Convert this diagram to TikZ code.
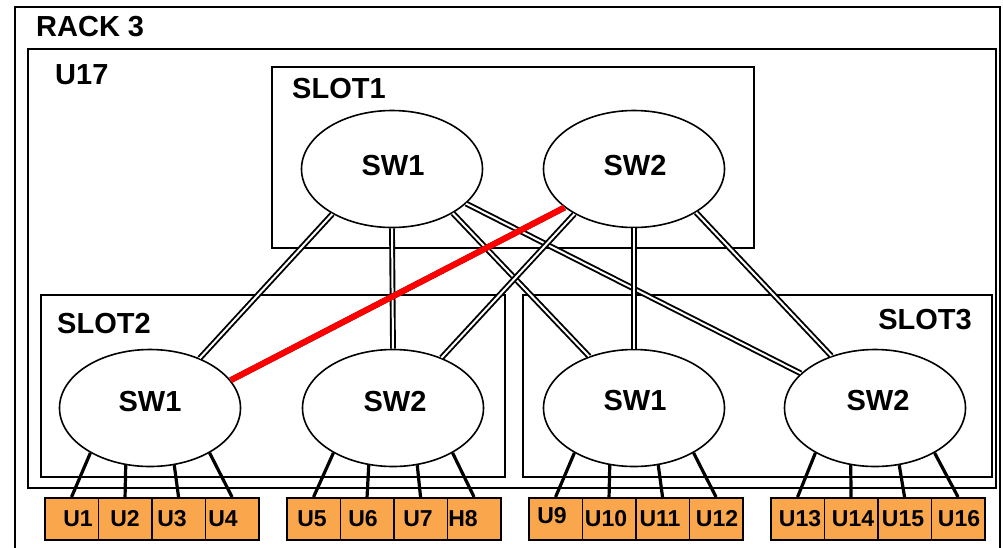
\documentclass[tikz,border=0pt]{standalone}
\usepackage{fontspec}
\setmainfont{Liberation Sans}
\usetikzlibrary{shapes.geometric}
\definecolor{boxorange}{RGB}{249,166,77}
\tikzset{
 frame/.style={draw=black, line width=1.7pt},
 sw/.style={ellipse, draw, line width=1.6pt, minimum width=181pt, minimum height=117pt, inner sep=0pt, fill=white},
 big/.style={font=\fontsize{29}{30}\selectfont\bfseries, inner sep=0pt, anchor=base west},
 swtext/.style={font=\fontsize{29}{30}\selectfont\bfseries, inner sep=0pt, anchor=base},
 ubox/.style={draw, line width=1.6pt, fill=boxorange, minimum width=53.5pt, minimum height=42pt, inner sep=0pt, anchor=north west},
 utext/.style={font=\fontsize{23}{24}\selectfont\bfseries, inner sep=0pt, anchor=base},
 link/.style={draw=black, line width=1.9pt, double=white, double distance=2pt},
 port/.style={draw=black, line width=3.2pt},
 hot/.style={draw=red, line width=6pt},
}
\begin{document}
\begin{tikzpicture}[x=1pt,y=-1pt]
\useasboundingbox (0,0) rectangle (1003,547);
\clip (0,0) rectangle (1003,547);
\fill[white] (0,0) rectangle (1003,547);
% frames
\draw[frame] (15,570) -- (15,7) -- (1000,7) -- (1000,570);
\draw[frame] (28,49) rectangle (996,488);
\draw[frame] (272,67) rectangle (754,248);
\draw[frame] (41,295) rectangle (505,477);
\draw[frame] (523,295) rectangle (992,477);
% switches
\node[sw] (t1) at (392,169) {};
\node[sw] (t2) at (634,169) {};
\node[sw] (b1) at (150,408) {};
\node[sw] (b2) at (393,408) {};
\node[sw] (b3) at (634,408) {};
\node[sw] (b4) at (875,408) {};
% links
\draw[link] (t1.217) -- (b1.45);
\draw[link] (t1.270) -- (b2.90);
\draw[link] (t1.324) -- (b3.131);
\draw[link] (t1.335) -- (b4.155);
\draw[link] (t2.209) -- (b1.19);
\draw[link] (t2.217) -- (b2.46);
\draw[link] (t2.270) -- (b3.90);
\draw[link] (t2.325) -- (b4.130);
\draw[hot] (t2.209) -- (b1.19);
% unit boxes
\foreach \g/\sx/\sw in {0/44/b1,1/286/b2,2/528/b3,3/770/b4}{
  \foreach \i/\ang in {0/217,1/247,2/293,3/323}{
    \pgfmathtruncatemacro{\n}{\g*4+\i+1}
    \node[ubox] (u\n) at ({\sx+\i*53.5},497) {};
    \draw[port] (u\n.north) -- (\sw.\ang);
  }
}
% texts
\node[big] (rack) at (36,36) {RACK 3};
\node[big] (u17) at (55,84) {U17};
\node[big] (s1) at (292,98) {SLOT1};
\node[big] (s2) at (57,333) {SLOT2};
\node[big, anchor=base east] (s3) at (972,329) {SLOT3};
\node[swtext] (lt1) at (393,175) {SW1};
\node[swtext] (lt2) at (635,175) {SW2};
\node[swtext] (lb1) at (150,411) {SW1};
\node[swtext] (lb2) at (395,411) {SW2};
\node[swtext] (lb3) at (635,410) {SW1};
\node[swtext] (lb4) at (878,410) {SW2};
\foreach \x/\t in {78/U1,125/U2,172/U3,223/U4,312/U5,363/U6,418/U7,463/H8,606/U10,660/U11,717/U12,800/U13,853/U14,903/U15,959/U16}{
  \node[utext] (l\t) at (\x,526) {\t};
}
\node[utext] (lU9) at (552,523) {U9};
\end{tikzpicture}
\end{document}
